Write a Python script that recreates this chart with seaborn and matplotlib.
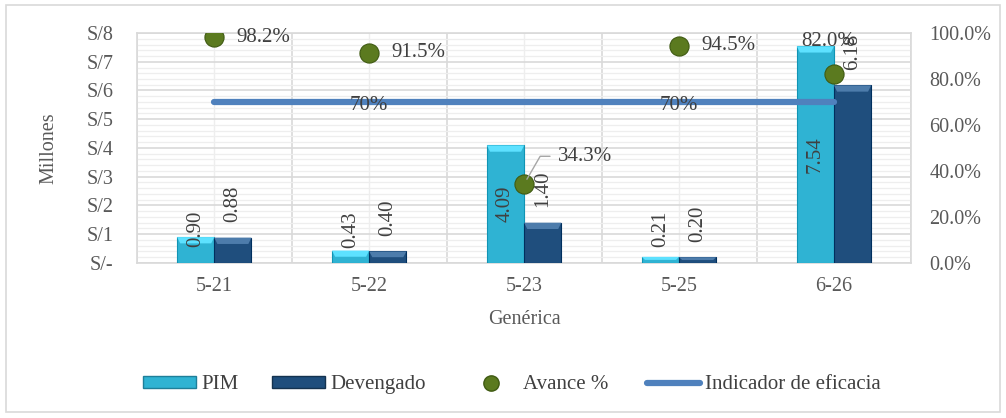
import numpy as np
import pandas as pd
import matplotlib
matplotlib.use("Agg")
import matplotlib.pyplot as plt
import seaborn as sns
from matplotlib.patches import Patch, Rectangle, Polygon
from matplotlib.lines import Line2D
from matplotlib.ticker import FuncFormatter, MultipleLocator

# Datos del gráfico
categorias = ["5-21", "5-22", "5-23", "5-25", "6-26"]
pim = [0.90, 0.43, 4.09, 0.21, 7.54]
devengado = [0.88, 0.40, 1.40, 0.20, 6.18]
avance = [98.2, 91.5, 34.3, 94.5, 82.0]
indicador = [70, 70, 70, 70, 70]

COLOR_PIM = "#2FB3D3"
COLOR_DEV = "#1F4E7D"
COLOR_AVANCE = "#5B7A1F"
COLOR_IND = "#4F81BD"
TXT = "#404040"
FS = 14.5

sns.set_style("white")
plt.rcParams["font.family"] = ["Liberation Serif", "DejaVu Serif"]
plt.rcParams["font.size"] = FS

df = pd.DataFrame({
    "Genérica": categorias * 2,
    "Monto": pim + devengado,
    "Serie": ["PIM"] * len(categorias) + ["Devengado"] * len(categorias),
})

fig = plt.figure(figsize=(10.06, 4.18), dpi=100)
# marco exterior del gráfico
fig.patches.append(Rectangle((0.006, 0.014), 0.988, 0.974, transform=fig.transFigure,
                             fill=False, edgecolor="#D9D9D9", linewidth=1.2))
ax = fig.add_axes([0.136, 0.371, 0.770, 0.550])

sns.barplot(data=df, x="Genérica", y="Monto", hue="Serie",
            palette={"PIM": COLOR_PIM, "Devengado": COLOR_DEV},
            width=0.48, gap=0, saturation=1, edgecolor="none",
            legend=False, ax=ax, zorder=3)

ax.set_xlim(-0.5, len(categorias) - 0.5)
ax.set_ylim(0, 8)

# efecto bisel: franja clara en la parte superior de cada barra
bevel = 0.22
for bar in list(ax.patches):
    x0, w, h = bar.get_x(), bar.get_width(), bar.get_height()
    if h <= 0:
        continue
    fc = bar.get_facecolor()
    light = tuple(min(1, c + 0.18) for c in fc[:3])
    dark = tuple(max(0, c - 0.12) for c in fc[:3])
    bh = min(bevel, h * 0.5)
    ax.add_patch(Polygon([(x0, h), (x0 + w, h), (x0 + w - 0.02, h - bh), (x0 + 0.02, h - bh)],
                         closed=True, facecolor=light, edgecolor="none", zorder=3.5))
    bar.set_edgecolor(dark)
    bar.set_linewidth(0.8)

ax.yaxis.set_major_locator(MultipleLocator(1))
ax.yaxis.set_minor_locator(MultipleLocator(0.2))
ax.xaxis.set_minor_locator(MultipleLocator(1, offset=0.5))
ax.yaxis.set_major_formatter(FuncFormatter(lambda v, p: "S/-" if v == 0 else f"S/{int(v)}"))
ax.grid(which="major", axis="y", color="#D9D9D9", linewidth=1.2, zorder=0)
ax.grid(which="minor", axis="y", color="#EEEEEE", linewidth=0.9, zorder=0)
ax.grid(which="major", axis="x", color="#EEEEEE", linewidth=1.0, zorder=0)
ax.grid(which="minor", axis="x", color="#D9D9D9", linewidth=1.2, zorder=0)
ax.set_axisbelow(True)
for s in ax.spines.values():
    s.set_color("#D9D9D9")
    s.set_linewidth(1.2)
ax.tick_params(which="both", length=0, colors="#595959", labelsize=FS)
ax.tick_params(axis="y", pad=17)
ax.tick_params(axis="x", pad=10)
ax.set_xlabel("Genérica", color="#595959", fontsize=FS, labelpad=10)
ax.set_ylabel("Millones", color="#595959", fontsize=FS, labelpad=20)

# etiquetas de las barras
x_pos = np.arange(len(categorias))
bw = 0.24
for i in x_pos:
    yc = max(pim[i] / 2, 1.17)
    ax.text(i - bw / 2, yc, f"{pim[i]:.2f}", rotation=90, ha="center", va="center",
            color=TXT, fontsize=15, zorder=5)
    ax.annotate(f"{devengado[i]:.2f}", (i + bw / 2, devengado[i]), xytext=(0, 11),
                textcoords="offset points", rotation=90, ha="center", va="bottom",
                color=TXT, fontsize=15, zorder=5, annotation_clip=False)

# eje secundario
ax2 = ax.twinx()
ax2.set_ylim(0, 100)
ax2.yaxis.set_major_locator(MultipleLocator(20))
ax2.yaxis.set_major_formatter(FuncFormatter(lambda v, p: f"{v:.1f}%"))
ax2.tick_params(length=0, colors="#595959", labelsize=FS, pad=13)
for s in ax2.spines.values():
    s.set_visible(False)

sns.lineplot(x=x_pos, y=indicador, color=COLOR_IND, linewidth=4.5, ax=ax2,
             solid_capstyle="round", zorder=4)
sns.scatterplot(x=x_pos, y=avance, color=COLOR_AVANCE, s=190, edgecolor="#3F5A12",
                linewidth=0.8, ax=ax2, zorder=6)
ax2.set_xlim(-0.5, len(categorias) - 0.5)

for i in [1, 3]:
    ax2.text(x_pos[i], indicador[i] - 1.5, f"{indicador[i]}%", ha="center", va="center",
             color=TXT, fontsize=15, zorder=5)

for i in x_pos:
    lbl = f"{avance[i]:.1f}%"
    if i == 2:
        ax2.annotate(lbl, (i, avance[i]), xytext=(24, 20), textcoords="offset points",
                     ha="left", va="center", color=TXT, fontsize=15, zorder=7,
                     arrowprops=dict(arrowstyle="-", color="#A6A6A6", lw=1,
                                     connectionstyle="angle,angleA=0,angleB=60,rad=0",
                                     shrinkA=3, shrinkB=4))
    elif i == 4:
        ax2.annotate(lbl, (i, avance[i]), xytext=(-4, 24), textcoords="offset points",
                     ha="center", va="center", color=TXT, fontsize=15, zorder=7)
    else:
        ax2.annotate(lbl, (i, avance[i]), xytext=(16, 0), textcoords="offset points",
                     ha="left", va="center", color=TXT, fontsize=15, zorder=7)

# leyenda: una entrada por posición, como en el original
handles = [
    Patch(facecolor=COLOR_PIM, edgecolor="#1E7F99", label="PIM"),
    Patch(facecolor=COLOR_DEV, edgecolor="#14324F", label="Devengado"),
    Line2D([], [], marker="o", linestyle="none", markersize=11, markerfacecolor=COLOR_AVANCE,
           markeredgecolor="#3F5A12", label="Avance %"),
    Line2D([], [], color=COLOR_IND, linewidth=4.5, solid_capstyle="round",
           label="Indicador de eficacia"),
]
leg_x = [0.142, 0.270, 0.462, 0.643]
for h, lx in zip(handles, leg_x):
    fig.legend(handles=[h], loc="center left", bbox_to_anchor=(lx, 0.079),
               frameon=False, fontsize=15, handlelength=2.55, handleheight=0.45,
               handletextpad=0.25, borderpad=0, borderaxespad=0, labelcolor=TXT)

fig.savefig("out.png", dpi=100)
